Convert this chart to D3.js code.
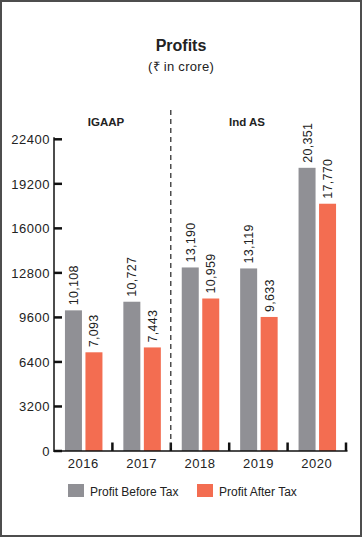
<!DOCTYPE html>
<html><head><meta charset="utf-8">
<script src="https://cdn.jsdelivr.net/npm/d3@7"></script>
<style>
html,body{margin:0;padding:0;background:#fff;}
svg{display:block;font-family:"Liberation Sans",Arial,sans-serif;}
</style></head>
<body>
<svg id="c" width="362" height="537"></svg>
<script>
const years = ["2016","2017","2018","2019","2020"];
const profitBeforeTax = [10108, 10727, 13190, 13119, 20351];
const profitAfterTax = [7093, 7443, 10959, 9633, 17770];
const yTicks = [0, 3200, 6400, 9600, 12800, 16000, 19200, 22400];
const seriesNames = ["Profit Before Tax", "Profit After Tax"];
const seriesColors = ["#909095", "#f36d51"];
const sectionLabels = ["IGAAP", "Ind AS"];

(function(){
const svg = d3.select("#c");
const pLeft = 54, pRight = 346, pTop = 139.3, pBottom = 451;

svg.append("rect").attr("x",1).attr("y",1).attr("width",360).attr("height",535)
  .attr("fill","#fff").attr("stroke","#4d4d4d").attr("stroke-width",2);

const x = d3.scaleBand().domain(years).range([pLeft, pRight]).padding(0);
const y = d3.scaleLinear().domain([0, 22400]).range([pBottom, pTop]);

// title
svg.append("text").attr("x",181).attr("y",51).attr("text-anchor","middle")
  .attr("font-size",16).attr("font-weight","bold").attr("fill","#222").text("Profits");
svg.append("text").attr("x",181).attr("y",71).attr("text-anchor","middle")
  .attr("font-size",13).attr("fill","#222").attr("letter-spacing",0.3).text("(₹ in crore)");

// bars
const bw = 17, gap = 3.5;
const data = years.map((yr,i)=>({yr, vals:[profitBeforeTax[i], profitAfterTax[i]]}));
data.forEach(d=>{
  const cx = x(d.yr) + x.bandwidth()/2 + 0.5;
  d.vals.forEach((v,j)=>{
    const bx = j===0 ? cx - gap/2 - bw : cx + gap/2;
    svg.append("rect").attr("x",bx).attr("y",y(v)).attr("width",bw).attr("height",pBottom - y(v))
      .attr("fill",seriesColors[j]);
    const tx = bx + bw/2 + 4.5, ty = y(v) - 5;
    svg.append("text").attr("transform",`translate(${tx},${ty}) rotate(-90)`)
      .attr("font-size",12.5).attr("letter-spacing",0.3).attr("fill","#222").text(d3.format(",")(v));
  });
});

// y axis
const yAxis = d3.axisLeft(y).tickValues(yTicks).tickSize(0).tickPadding(4).tickFormat(d3.format("d"));
const ya = svg.append("g").attr("transform",`translate(${pLeft},0)`).call(yAxis);
ya.select(".domain").remove();
ya.selectAll("text").attr("font-size",13).attr("letter-spacing",0.5).attr("fill","#222").attr("font-family","Liberation Sans, Arial, sans-serif");
svg.append("line").attr("x1",pLeft).attr("x2",pLeft).attr("y1",pTop-2).attr("y2",pBottom+1)
  .attr("stroke","#111").attr("stroke-width",1.5);
yTicks.forEach(t=>{
  svg.append("line").attr("x1",pLeft).attr("x2",pLeft+8).attr("y1",y(t)).attr("y2",y(t))
    .attr("stroke","#111").attr("stroke-width",2.5);
});

// x axis
const xAxis = d3.axisBottom(x).tickSize(0).tickPadding(8);
const xa = svg.append("g").attr("transform",`translate(0,${pBottom})`).call(xAxis);
xa.select(".domain").remove();
xa.selectAll("text").attr("font-size",13).attr("letter-spacing",0.5).attr("fill","#222").attr("font-family","Liberation Sans, Arial, sans-serif");
svg.append("line").attr("x1",pLeft).attr("x2",pRight+1.5).attr("y1",pBottom).attr("y2",pBottom)
  .attr("stroke","#111").attr("stroke-width",1.5);
years.forEach(yr=>{
  const bx = x(yr) + x.bandwidth();
  svg.append("line").attr("x1",bx).attr("x2",bx).attr("y1",pBottom).attr("y2",pBottom-8.5)
    .attr("stroke","#111").attr("stroke-width",2.5);
});

// divider
const divX = x("2018");
svg.append("line").attr("x1",divX).attr("x2",divX).attr("y1",110).attr("y2",pBottom)
  .attr("stroke","#222").attr("stroke-width",1.2).attr("stroke-dasharray","5,4");

svg.append("text").attr("x",106).attr("y",126).attr("text-anchor","middle")
  .attr("font-size",11.5).attr("font-weight","bold").attr("fill","#222").text(sectionLabels[0]);
svg.append("text").attr("x",247).attr("y",126).attr("text-anchor","middle")
  .attr("font-size",11.5).attr("font-weight","bold").attr("fill","#222").text(sectionLabels[1]);

// legend
const legX = [68, 197];
seriesNames.forEach((n,i)=>{
  svg.append("rect").attr("x",legX[i]).attr("y",484).attr("width",16).attr("height",13).attr("fill",seriesColors[i]);
  svg.append("text").attr("x",legX[i]+22).attr("y",495.5).attr("font-size",12).attr("fill","#222").text(n);
});
})();
</script>
</body></html>
